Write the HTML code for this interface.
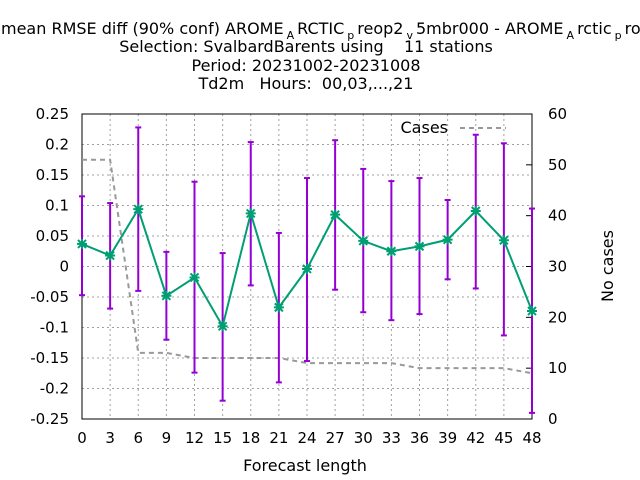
<!DOCTYPE html>
<html><head><meta charset="utf-8"><style>body{margin:0;background:#fff}svg{display:block;font-family:"DejaVu Sans","Liberation Sans",sans-serif}</style></head>
<body>
<svg id="chart" width="640" height="480" viewBox="0 0 640 480" xmlns="http://www.w3.org/2000/svg">
<g id="titles" font-size="16" fill="#000">
<text x="1" y="34">mean RMSE diff (90% conf) AROME<tspan dx="3" dy="5" font-size="11">A</tspan><tspan dx="3" dy="-5">RCTIC</tspan><tspan dx="3" dy="5" font-size="11">p</tspan><tspan dx="3" dy="-5">reop2</tspan><tspan dx="3" dy="5" font-size="11">v</tspan><tspan dx="3" dy="-5">5mbr000 - AROME</tspan><tspan dx="3" dy="5" font-size="11">A</tspan><tspan dx="3" dy="-5">rctic</tspan><tspan dx="3" dy="5" font-size="11">p</tspan><tspan dx="3" dy="-5">rod</tspan></text>
<text x="306" y="52" text-anchor="middle" xml:space="preserve">Selection: SvalbardBarents using    11 stations</text>
<text x="306" y="71" text-anchor="middle">Period: 20231002-20231008</text>
<text x="306" y="89" text-anchor="middle" xml:space="preserve">Td2m   Hours:  00,03,...,21</text>
</g>
<g id="grid"></g>
<g id="axes"></g>
<g id="series"></g>
<text x="305" y="471" text-anchor="middle" font-size="16">Forecast length</text>
<text transform="translate(613,266) rotate(-90)" text-anchor="middle" font-size="16">No cases</text>
<g>
<text x="448" y="133" text-anchor="end" font-size="16">Cases</text>
<line x1="460" y1="128" x2="506" y2="128" stroke="#999" stroke-width="2" stroke-dasharray="5,4"/>
</g>
</svg>
<script>
const hours=[0,3,6,9,12,15,18,21,24,27,30,33,36,39,42,45,48];
const meanDiff=[0.037,0.018,0.094,-0.048,-0.018,-0.098,0.087,-0.067,-0.004,0.085,0.042,0.025,0.033,0.044,0.091,0.043,-0.073];
const upper=[0.115,0.104,0.228,0.024,0.139,0.022,0.204,0.055,0.145,0.207,0.160,0.140,0.145,0.109,0.216,0.202,0.095];
const lower=[-0.047,-0.069,-0.040,-0.120,-0.174,-0.220,-0.031,-0.190,-0.155,-0.038,-0.075,-0.088,-0.078,-0.021,-0.036,-0.113,-0.240];
const cases=[51,51,13,13,12,12,12,12,11,11,11,11,10,10,10,10,9];
const yTicks=[-0.25,-0.2,-0.15,-0.1,-0.05,0,0.05,0.1,0.15,0.2,0.25];
const yTickLabels=["-0.25","-0.2","-0.15","-0.1","-0.05","0","0.05","0.1","0.15","0.2","0.25"];
const y2Ticks=[0,10,20,30,40,50,60];
const xTicks=[0,3,6,9,12,15,18,21,24,27,30,33,36,39,42,45,48];

const L=82,R=532,T=114,B=419;
const NS="http://www.w3.org/2000/svg";
const xs=v=>L+(v-0)/48*(R-L);
const ys=v=>B-(v+0.25)/0.5*(B-T);
const y2s=v=>B-v/60*(B-T);
function mk(tag,attrs,parent){const e=document.createElementNS(NS,tag);for(const k in attrs)e.setAttribute(k,attrs[k]);parent.appendChild(e);return e;}
const grid=document.getElementById('grid'),axes=document.getElementById('axes'),ser=document.getElementById('series');
xTicks.forEach(t=>{
 if(t>0&&t<48){const g=mk('line',{x1:xs(t),x2:xs(t),y1:T,y2:B,stroke:'#a0a0a0','stroke-dasharray':'2,3','stroke-width':1},grid);
 
 }
 const tx=mk('text',{x:xs(t),y:443,'text-anchor':'middle','font-size':15},axes);tx.textContent=t;
 
 
});
yTicks.forEach((t,i)=>{
 if(i>0&&i<yTicks.length-1){const g=mk('line',{x1:L,x2:R,y1:ys(t),y2:ys(t),stroke:'#a0a0a0','stroke-dasharray':'2,3','stroke-width':1},grid);
 
 }
 const tx=mk('text',{x:69,y:ys(t)+5,'text-anchor':'end','font-size':15},axes);tx.textContent=yTickLabels[i];
 
 
});
y2Ticks.forEach(t=>{
 mk('line',{x1:R-6,x2:R,y1:y2s(t),y2:y2s(t),stroke:'#000'},axes);
 const tx=mk('text',{x:548,y:y2s(t)+5,'font-size':15},axes);tx.textContent=t;
 
 
});
const fr=mk('rect',{x:L,y:T,width:R-L,height:B-T,fill:'none',stroke:'#000','stroke-width':1},axes);


const cl=mk('polyline',{points:hours.map((h,i)=>xs(h)+','+y2s(cases[i])).join(' '),fill:'none',stroke:'#999','stroke-width':2,'stroke-dasharray':'5,4'},ser);


hours.forEach((h,i)=>{
 const g=mk('g',{stroke:'#9400d3','stroke-width':2},ser);
 
 
 const x=xs(h);
 mk('line',{x1:x,x2:x,y1:ys(upper[i]),y2:ys(lower[i])},g);
 mk('line',{x1:x-3,x2:x+3,y1:ys(upper[i]),y2:ys(upper[i])},g);
 mk('line',{x1:x-3,x2:x+3,y1:ys(lower[i]),y2:ys(lower[i])},g);
});
const ml=mk('polyline',{points:hours.map((h,i)=>xs(h)+','+ys(meanDiff[i])).join(' '),fill:'none',stroke:'#009e73','stroke-width':2},ser);


hours.forEach((h,i)=>{
 const x=xs(h),y=ys(meanDiff[i]);
 const p=mk('path',{d:`M${x-5},${y}H${x+5}M${x},${y-5}V${y+5}M${x-4},${y-4}L${x+4},${y+4}M${x-4},${y+4}L${x+4},${y-4}`,stroke:'#009e73','stroke-width':2},ser);
 
 
});
</script>
</body></html>
